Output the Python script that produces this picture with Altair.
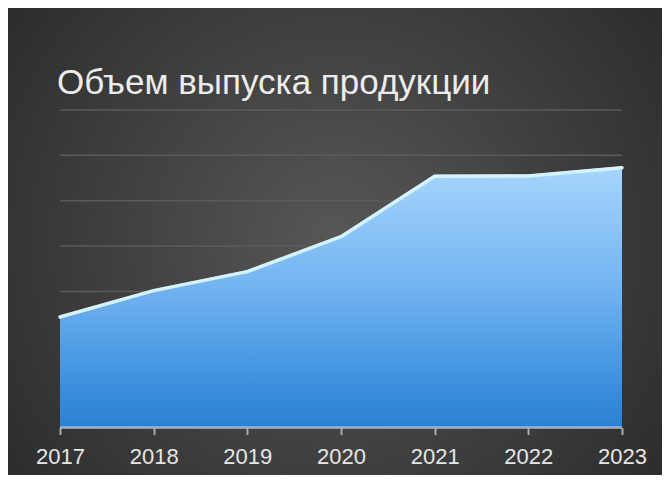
import altair as alt
import pandas as pd

years = [2017, 2018, 2019, 2020, 2021, 2022, 2023]
values = [2.47, 3.05, 3.47, 4.24, 5.57, 5.58, 5.76]
grid_levels = [1, 2, 3, 4, 5, 6, 7]
title_text = "Объем выпуска продукции"

df = pd.DataFrame({"year": years, "value": values})
grid_df = pd.DataFrame({"g": grid_levels})
base_df = pd.DataFrame({"x": [years[0]], "x2": [years[-1]], "y": [0]})
title_df = pd.DataFrame({"t": [title_text]})
one_df = pd.DataFrame({"k": [0]})

W, H = 654, 467
BASE_Y = 419.5
xscale = alt.Scale(domain=[2016.4449, 2023.427], nice=False, zero=False)
yscale = alt.Scale(domain=[-1.0472, 9.248], nice=False, zero=False)

FONT = "Liberation Sans"

bg = alt.RadialGradient(
    gradient="radial",
    x1=0.5, y1=0.5, r1=0,
    x2=0.5, y2=0.5, r2=0.75,
    stops=[
        alt.GradientStop(color="#575757", offset=0),
        alt.GradientStop(color="#232323", offset=1),
    ],
)

background = alt.Chart(one_df).mark_rect(fill=bg).encode(
    x=alt.value(0), x2=alt.value("width"), y=alt.value(0), y2=alt.value("height")
)

grid = alt.Chart(grid_df).mark_rule(color="#5b5b5b", strokeWidth=1.5).encode(
    y=alt.Y("g:Q", scale=yscale, axis=None),
    x=alt.datum(years[0], scale=xscale),
    x2=alt.datum(years[-1]),
)

area_fill = alt.LinearGradient(
    gradient="linear",
    x1=0, y1=0, x2=0, y2=1,
    stops=[
        alt.GradientStop(color="#a6d5fc", offset=0),
        alt.GradientStop(color="#74b5f2", offset=0.45),
        alt.GradientStop(color="#3a8edd", offset=0.85),
        alt.GradientStop(color="#2a80d2", offset=1),
    ],
)

area = alt.Chart(df).mark_area(fill=area_fill, interpolate="linear").encode(
    x=alt.X(
        "year:Q",
        scale=xscale,
        axis=alt.Axis(
            values=years,
            format="d",
            domain=False,
            grid=False,
            offset=-(H - BASE_Y),
            zindex=1,
            tickColor="#a3adb7",
            tickWidth=2,
            tickSize=7,
            labelFont=FONT,
            labelFontSize=22,
            labelColor="#e6e6e6",
            labelPadding=12,
            title=None,
        ),
    ),
    y=alt.Y("value:Q", scale=yscale, axis=None),
    y2=alt.datum(0),
)

edge = alt.Chart(df).mark_line(
    color="#d2f3ff", strokeWidth=3.5, yOffset=1.5, strokeCap="round", strokeJoin="round"
).encode(
    x=alt.X("year:Q", scale=xscale),
    y=alt.Y("value:Q", scale=yscale),
)

baseline = alt.Chart(base_df).mark_rule(color="#a8b2bc", strokeWidth=2.5).encode(
    x=alt.X("x:Q", scale=xscale),
    x2="x2:Q",
    y=alt.Y("y:Q", scale=yscale),
)

title = alt.Chart(title_df).mark_text(
    align="left", baseline="alphabetic", font=FONT, fontSize=35, color="#ececec"
).encode(
    x=alt.value(49),
    y=alt.value(85.5),
    text="t:N",
)

chart = (
    alt.layer(background, grid, area, edge, baseline, title)
    .properties(
        width=W,
        height=H,
        padding=0,
        autosize=alt.AutoSizeParams(type="none"),
    )
    .configure_view(strokeWidth=0)
)

chart.save("out.html", embed_options={"renderer": "svg", "actions": False})
